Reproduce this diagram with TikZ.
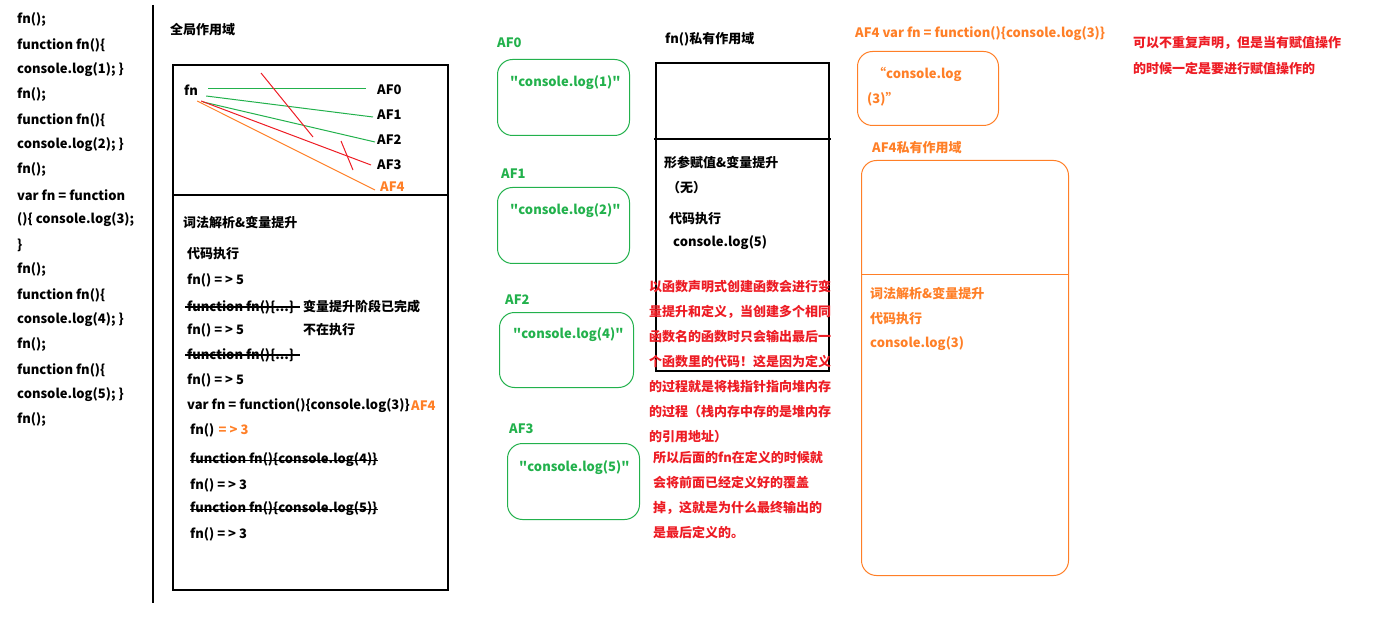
\documentclass[tikz,border=0pt]{standalone}
\usepackage{fontspec}
\setmainfont{Noto Sans CJK SC}
\newfontfamily\quotefont{Noto Sans CJK SC}
\usepackage{xcolor}
\usepackage{tikz}
\usetikzlibrary{positioning,calc}
\definecolor{afgreen}{RGB}{34,177,76}
\definecolor{aforange}{RGB}{255,127,39}
\definecolor{afred}{RGB}{237,28,36}
\newcommand{\dq}{{\quotefont\bfseries"}}

\begin{document}
\begin{tikzpicture}[x=1pt,y=-1pt,font=\fontsize{13}{15}\selectfont\bfseries,
  txt/.style={anchor=west,inner sep=0pt},
  scopebox/.style={draw,line width=1.2pt},
  link/.style={line width=1pt},
  afbox/.style={draw=afgreen,line width=1pt,rounded corners=15pt,anchor=north west,inner sep=0pt},
  orbox/.style={draw=aforange,line width=1pt,rounded corners=15pt,anchor=north west,inner sep=0pt},
  strike/.style={line width=2pt},
  thinstrike/.style={line width=1pt}]
  \useasboundingbox (0,0) rectangle (1375,644);

  % source code column
  \foreach \ln [count=\i from 0] in {{fn();},{function fn()\{},{console.log(1); \}},{fn();},
      {function fn()\{},{console.log(2); \}},{fn();},{var fn = function},{()\{ console.log(3);},
      {\}},{fn();},{function fn()\{},{console.log(4); \}},{fn();},{function fn()\{},
      {console.log(5); \}},{fn();}}
    \node[txt] (code\i) at (17,{20+25*\i}) {\ln};
  \draw[line width=1.2pt] (153,5) -- (153,603);

  % global scope
  \node[txt] (gtitle) at (170,30) {全局作用域};
  \draw[scopebox] (173,65) rectangle (448,590);
  \draw[line width=1.2pt] (173,195) -- (448,195);
  \node[txt] (fn) at (184,90) {fn};
  \node[txt] (af0) at (377,90) {AF0};
  \node[txt] (af1) at (377,115) {AF1};
  \node[txt] (af2) at (377,140) {AF2};
  \node[txt] (af3) at (377,165) {AF3};
  \node[txt,text=aforange] (af4) at (380,187) {AF4};
  \draw[link,afgreen] ([shift={(10,-1)}]fn.east) -- ([shift={(-11,-1)}]af0.west);
  \draw[link,afgreen] ([shift={(8,6)}]fn.east) -- ([shift={(-4,2)}]af1.west);
  \draw[link,afgreen] ([shift={(5,12)}]fn.east) -- ([shift={(-2,2)}]af2.west);
  \draw[link,afred] ([shift={(3,11)}]fn.east) -- ([shift={(-6,0)}]af3.west);
  \draw[link,aforange] ([shift={(-1,11)}]fn.east) -- ([shift={(-5,3)}]af4.west);
  \draw[link,afred] (261,73) -- (313,137);
  \draw[link,afred] (341,141) -- (353,170);

  \node[txt] (lex) at (183,223) {词法解析\&变量提升};
  \node[txt] (run) at (187,254) {代码执行};
  \node[txt] (r1) at (187,280) {fn() = > 5};
  \node[txt] (d1) at (187,307) {function fn()\{...\}};
  \node[txt] (note1) at (303,307) {变量提升阶段已完成};
  \node[txt] (r2) at (187,330) {fn() = > 5};
  \node[txt] (note2) at (303,330) {不在执行};
  \node[txt] (d2) at (187,355) {function fn()\{...\}};
  \node[txt] (r3) at (187,380) {fn() = > 5};
  \node[txt] (v) at (187,406) {var fn = function()\{console.log(3)\}};
  \node[txt,text=aforange,right=1pt of v] (vaf) {AF4};
  \node[txt] (r4) at (190,430) {fn()};
  \node[txt,text=aforange,right=4pt of r4] (r4v) {= > 3};
  \node[txt] (d3) at (190,460) {function fn()\{console.log(4)\}};
  \node[txt] (r5) at (190,485) {fn() = > 3};
  \node[txt] (d4) at (190,509) {function fn()\{console.log(5)\}};
  \node[txt] (r6) at (190,534) {fn() = > 3};
  \draw[strike] ([xshift=-2]d1.west) -- ([xshift=6]d1.east);
  \draw[strike] ([xshift=-2]d2.west) -- ([xshift=6]d2.east);
  \draw[thinstrike] (d3.west) -- (d3.east);
  \draw[thinstrike] (d4.west) -- (d4.east);

  % function objects
  \node[txt,text=afgreen] (h0) at (497,43) {AF0};
  \node[afbox,minimum width=132,minimum height=76] (b0) at (497,59) {};
  \node[txt,text=afgreen] (b0t) at (510,83) {\dq console.log(1)\dq};
  \node[txt,text=afgreen] (h1) at (501,174) {AF1};
  \node[afbox,minimum width=132,minimum height=76] (b1) at (497,187) {};
  \node[txt,text=afgreen] (b1t) at (510,211) {\dq console.log(2)\dq};
  \node[txt,text=afgreen] (h2) at (505,300) {AF2};
  \node[afbox,minimum width=134,minimum height=75] (b2) at (499,312) {};
  \node[txt,text=afgreen] (b2t) at (513,335) {\dq console.log(4)\dq};
  \node[txt,text=afgreen] (h3) at (509,429) {AF3};
  \node[afbox,minimum width=132,minimum height=76] (b3) at (507,443) {};
  \node[txt,text=afgreen] (b3t) at (519,468) {\dq console.log(5)\dq};

  % fn() private scope
  \node[txt] (ptitle) at (665,39) {fn()私有作用域};
  \draw[scopebox] (656,63) rectangle (829,371);
  \draw[line width=1.2pt] (654,139) -- (831,139);
  \node[txt] (parm) at (664,163) {形参赋值\&变量提升};
  \node[txt] (none) at (667,188) {（无）};
  \node[txt] (prun) at (669,219) {代码执行};
  \node[txt] (plog) at (673,243) {console.log(5)};

  % explanation
  \foreach \ln [count=\i from 0] in {以函数声明式创建函数会进行变,量提升和定义，当创建多个相同,
      函数名的函数时只会输出最后一,个函数里的代码！这是因为定义,的过程就是将栈指针指向堆内存,
      的过程（栈内存中存的是堆内存,的引用地址）}
    \node[txt,text=afred] (ex\i) at (649,{287+25*\i}) {\ln};
  \foreach \ln [count=\i from 0] in {所以后面的fn在定义的时候就,会将前面已经定义好的覆盖,
      掉，这就是为什么最终输出的,是最后定义的。}
    \node[txt,text=afred] (ey\i) at (653,{458+25*\i}) {\ln};

  % AF4
  \node[txt,text=aforange] (h4) at (855,34) {AF4 var fn = function()\{console.log(3)\}};
  \node[orbox,minimum width=141,minimum height=74] (b4) at (857,51) {};
  \node[txt,text=aforange] (b4t) at (873,74) {“console.log};
  \node[txt,text=aforange] (b4u) at (867,99) {(3)”};
  \node[txt,text=aforange] (qtitle) at (872,148) {AF4私有作用域};
  \node[orbox,minimum width=207,minimum height=415] (q) at (861,160) {};
  \draw[aforange,line width=1pt] (q.west |- 0,274) -- (q.east |- 0,274);
  \node[txt,text=aforange] (qlex) at (870,294) {词法解析\&变量提升};
  \node[txt,text=aforange] (qrun) at (870,319) {代码执行};
  \node[txt,text=aforange] (qlog) at (870,344) {console.log(3)};

  \node[txt,text=afred] (rule1) at (1133,43) {可以不重复声明，但是当有赋值操作};
  \node[txt,text=afred] (rule2) at (1133,69) {的时候一定是要进行赋值操作的};
\end{tikzpicture}
\end{document}
